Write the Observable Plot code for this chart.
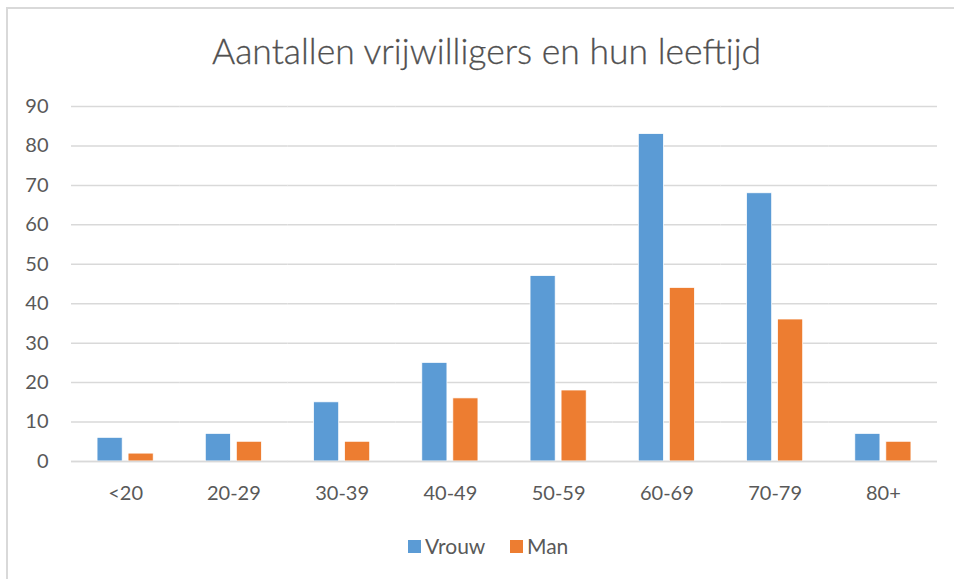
<!DOCTYPE html>
<html>
<head>
<meta charset="utf-8">
<script src="https://cdn.jsdelivr.net/npm/d3@7"></script>
<script src="https://cdn.jsdelivr.net/npm/@observablehq/plot@0.6"></script>
<style>
  html, body { margin: 0; padding: 0; background: #fff; }
  body { width: 954px; height: 579px; position: relative; overflow: hidden; font-family: Lato, "Open Sans", sans-serif; color: #595959; }
  #frame { position: absolute; left: 6px; top: 7px; width: 1000px; height: 700px; border-top: 2px solid #d9d9d9; border-left: 2px solid #d9d9d9; }
  #title { position: absolute; left: 0; top: 30px; width: 973px; text-align: center; font-size: 35.5px; line-height: 42px; font-weight: 300; color: #505050; white-space: nowrap; -webkit-text-stroke: 0.3px #505050; }
  #chart { position: absolute; left: 0; top: 90px; }
  #legend { position: absolute; top: 532px; left: 0; width: 954px; font-size: 21px; line-height: 28px; color: #595959; }
  .item { position: absolute; display: flex; align-items: center; }
  .sw { width: 13px; height: 13px; margin-right: 4px; }
</style>
</head>
<body>
<div id="frame"></div>
<div id="title">Aantallen vrijwilligers en hun leeftijd</div>
<div id="chart"></div>
<div id="legend"></div>
<script>
const categories = ["<20", "20-29", "30-39", "40-49", "50-59", "60-69", "70-79", "80+"];
const series = ["Vrouw", "Man"];
const vrouw = [6, 7, 15, 25, 47, 83, 68, 7];
const man = [2, 5, 5, 16, 18, 44, 36, 5];
const yTicks = [0, 10, 20, 30, 40, 50, 60, 70, 80, 90];
const colors = ["#5B9BD5", "#ED7D31"];

const data = [];
categories.forEach((c, i) => {
  data.push({cat: c, series: "Vrouw", value: vrouw[i]});
  data.push({cat: c, series: "Man", value: man[i]});
});

const chart = Plot.plot({
  width: 954,
  height: 430,
  marginTop: 16,
  marginBottom: 59,
  marginLeft: 71,
  marginRight: 17,
  style: {fontFamily: "Lato, 'Open Sans', sans-serif", fontSize: "20px", color: "#595959", background: "transparent"},
  fx: {domain: categories, padding: 0, label: null, round: false},
  x: {domain: series, paddingInner: 0.19, paddingOuter: 0.84, axis: null, round: false},
  y: {domain: [0, 90], ticks: yTicks, label: null},
  color: {domain: series, range: colors},
  marks: [
    Plot.gridY(yTicks, {stroke: "#d9d9d9", strokeOpacity: 1, strokeWidth: 1.5}),
    Plot.axisY(yTicks, {tickSize: 0, tickPadding: 23, label: null, fill: "#595959", fontSize: 20}),
    Plot.axisFx({anchor: "bottom", tickSize: 0, tickPadding: 24, label: null, fill: "#595959", fontSize: 20}),
    Plot.barY(data, {fx: "cat", x: "series", y: "value", fill: "series", stroke: "white", strokeWidth: 0.75}),
    Plot.ruleY([0], {stroke: "#d9d9d9", strokeWidth: 1.5})
  ]
});
document.getElementById("chart").appendChild(chart);

const legend = document.getElementById("legend");
const lx = [408, 510];
series.forEach((s, i) => {
  const it = document.createElement("div");
  it.className = "item";
  it.style.left = lx[i] + "px";
  it.innerHTML = `<span class="sw" style="background:${colors[i]}"></span><span>${s}</span>`;
  legend.appendChild(it);
});
</script>
</body>
</html>
